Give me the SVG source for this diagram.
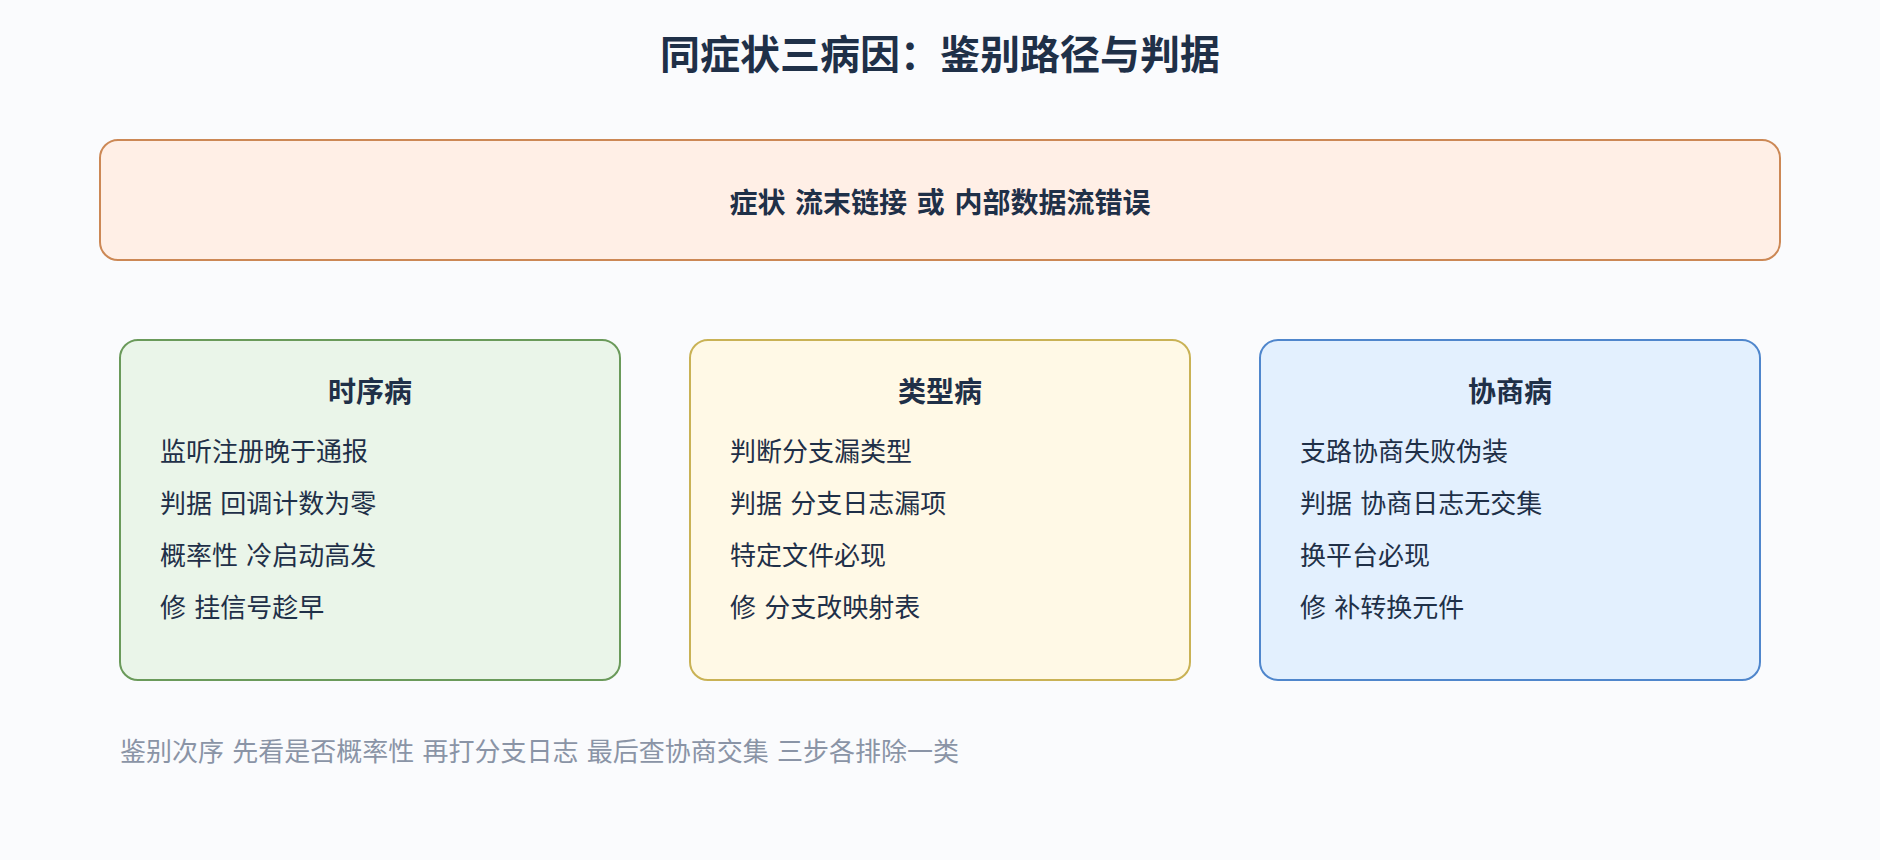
<svg xmlns="http://www.w3.org/2000/svg" width="1880" height="860" viewBox="0 0 1880 860">
  <style>
    text { font-family: "DejaVu Sans", "Noto Sans CJK SC", sans-serif; fill: #1F3048; }
    .title { font-size: 40px; font-weight: 700; text-anchor: middle; }
    .head { font-size: 28px; font-weight: 700; text-anchor: middle; }
    .item { font-size: 26px; font-weight: 400; }
    .note { font-size: 26px; font-weight: 400; fill: #8A94A6; }
    .box { stroke-width: 2; }
  </style>
  <rect x="0" y="0" width="1880" height="860" fill="#FAFBFD"/>
  <text class="title" x="940" y="69">同症状三病因：鉴别路径与判据</text>

  <g id="symptom">
    <rect class="box" x="100" y="140" width="1680" height="120" rx="18" fill="#FFEFE6" stroke="#CC8855"/>
    <text class="head" x="940" y="213">症状 流末链接 或 内部数据流错误</text>
  </g>

  <g id="connectors"></g>

  <g id="timing">
    <rect class="box" x="120" y="340" width="500" height="340" rx="18" fill="#EAF5E9" stroke="#6A9A5A"/>
    <text class="head" x="370" y="402">时序病</text>
    <text class="item" x="160" y="461">监听注册晚于通报</text>
    <text class="item" x="160" y="513">判据 回调计数为零</text>
    <text class="item" x="160" y="565">概率性 冷启动高发</text>
    <text class="item" x="160" y="617">修 挂信号趁早</text>
  </g>

  <g id="type">
    <rect class="box" x="690" y="340" width="500" height="340" rx="18" fill="#FFF9E6" stroke="#C9B255"/>
    <text class="head" x="940" y="402">类型病</text>
    <text class="item" x="730" y="461">判断分支漏类型</text>
    <text class="item" x="730" y="513">判据 分支日志漏项</text>
    <text class="item" x="730" y="565">特定文件必现</text>
    <text class="item" x="730" y="617">修 分支改映射表</text>
  </g>

  <g id="negotiation">
    <rect class="box" x="1260" y="340" width="500" height="340" rx="18" fill="#E3F0FE" stroke="#4F86CC"/>
    <text class="head" x="1510" y="402">协商病</text>
    <text class="item" x="1300" y="461">支路协商失败伪装</text>
    <text class="item" x="1300" y="513">判据 协商日志无交集</text>
    <text class="item" x="1300" y="565">换平台必现</text>
    <text class="item" x="1300" y="617">修 补转换元件</text>
  </g>

  <text class="note" x="120" y="761">鉴别次序 先看是否概率性 再打分支日志 最后查协商交集 三步各排除一类</text>
</svg>
